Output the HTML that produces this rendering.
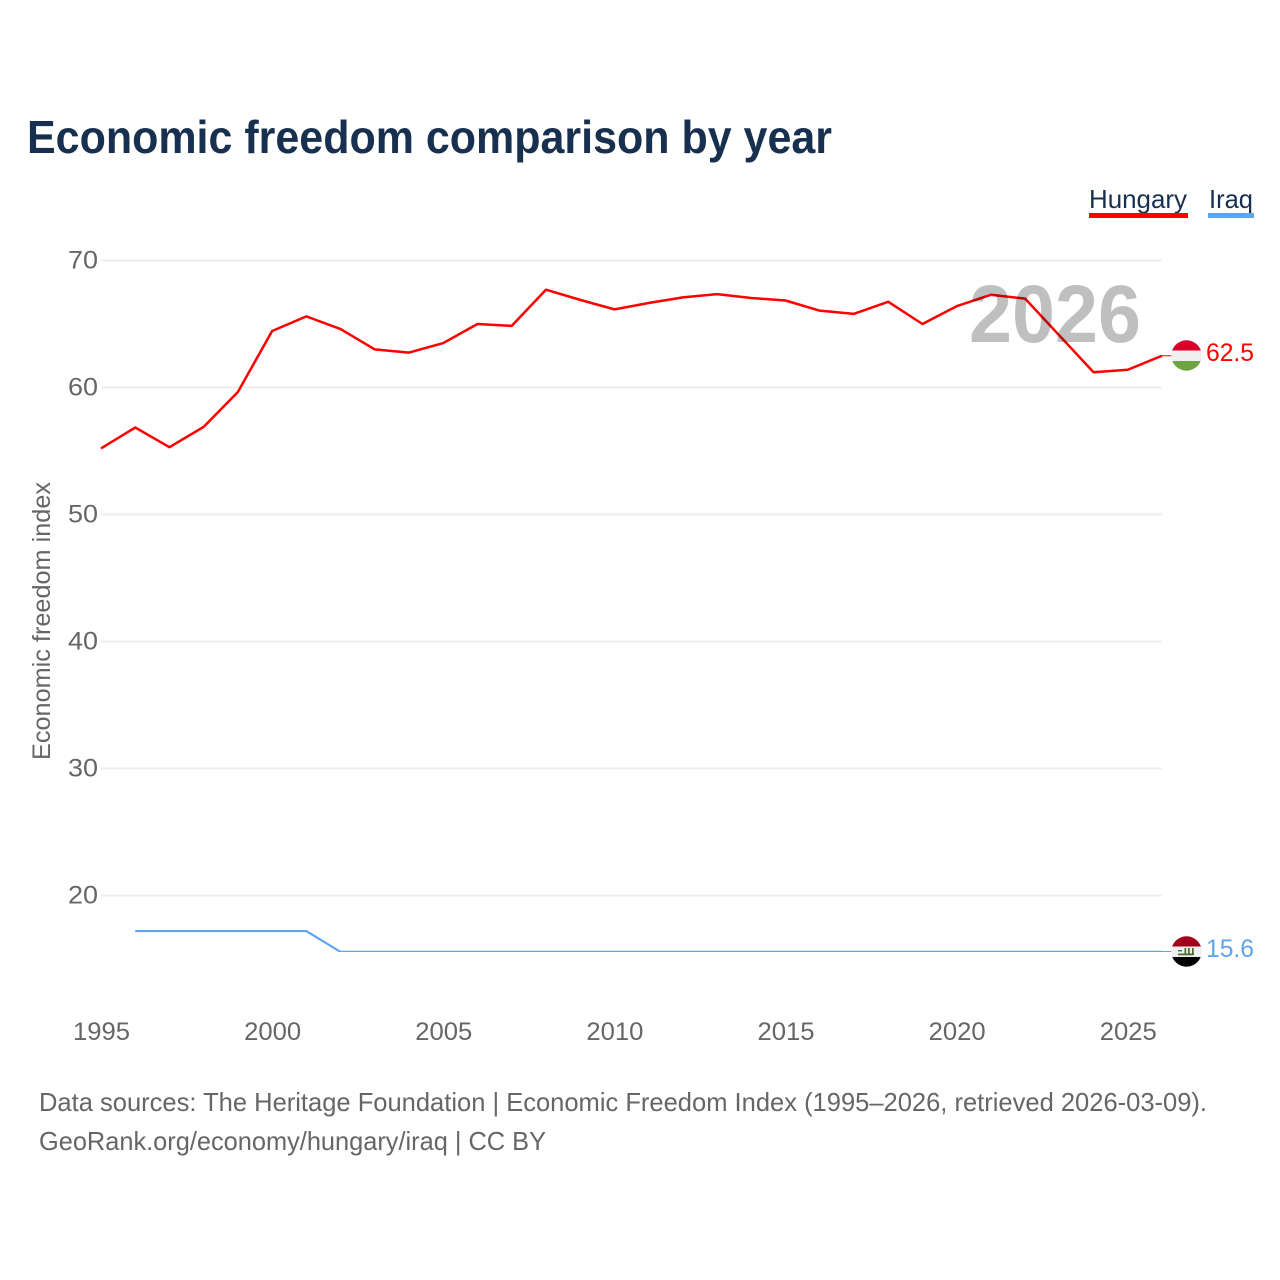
<!DOCTYPE html>
<html lang="en">
<head>
<meta charset="utf-8">
<title>Economic freedom comparison by year</title>
<style>
html,body{margin:0;padding:0;background:#fff;}
svg{display:block;font-family:"Liberation Sans",sans-serif;}
</style>
</head>
<body>
<svg id="chart" xmlns="http://www.w3.org/2000/svg" width="1280" height="1280" viewBox="0 0 1280 1280">
  <defs>
    <clipPath id="flag-clip-hu"><circle cx="1186.5" cy="355.5" r="15.2"></circle></clipPath>
    <clipPath id="flag-clip-iq"><circle cx="1186.5" cy="951.5" r="15.2"></circle></clipPath>
    <clipPath id="plot-clip"><rect x="90" y="240" width="1090" height="712"></rect></clipPath>
  </defs>
  <rect width="1280" height="1280" fill="#fff"></rect>
  <text x="27" y="153" font-size="46" font-weight="700" fill="#18304f" textLength="805" lengthAdjust="spacingAndGlyphs">Economic freedom comparison by year</text>
  <g id="grid"></g>
  <g id="yticks"></g>
  <g id="xticks"></g>
  <text transform="translate(50,621) rotate(-90)" font-size="25" fill="#666" text-anchor="middle" textLength="278" lengthAdjust="spacingAndGlyphs">Economic freedom index</text>
  <g id="series" clip-path="url(#plot-clip)"></g>
  <text x="1141" y="342" font-size="82" font-weight="700" fill="#000" fill-opacity="0.25" text-anchor="end" textLength="172" lengthAdjust="spacingAndGlyphs">2026</text>

  <g>
    <text x="1089" y="208" font-size="26" fill="#18304f" textLength="98" lengthAdjust="spacingAndGlyphs">Hungary</text>
    <rect x="1089" y="213" width="99" height="5" fill="#ff0000"></rect>
  </g>
  <g>
    <text x="1209" y="208" font-size="26" fill="#18304f" textLength="44" lengthAdjust="spacingAndGlyphs">Iraq</text>
    <rect x="1208" y="213" width="46" height="5" fill="#5fa4ee"></rect>
  </g>

  <g clip-path="url(#flag-clip-hu)">
    <rect x="1171" y="340" width="31" height="10.5" fill="#d80027"></rect>
    <rect x="1171" y="350.5" width="31" height="10.5" fill="#f0f0f0"></rect>
    <rect x="1171" y="361" width="31" height="11" fill="#6da544"></rect>
  </g>
  <g clip-path="url(#flag-clip-iq)">
    <rect x="1171" y="936" width="31" height="10.5" fill="#a2001d"></rect>
    <rect x="1171" y="946.5" width="31" height="10.5" fill="#f0f0f0"></rect>
    <rect x="1171" y="957" width="31" height="11" fill="#000"></rect>
    <path d="M1178 953.5h16v1.7h-16zM1178 950h4v1.4h-4zM1184.5 948h1.7v6h-1.7zM1188 948h1.7v6h-1.7zM1192 948h1.7v6h-1.7z" fill="#496e2d"></path>
  </g>

  <text x="1206" y="361" font-size="25" fill="#ff0000" textLength="48" lengthAdjust="spacingAndGlyphs">62.5</text>
  <text x="1206" y="957" font-size="25" fill="#5fa4ee" textLength="48" lengthAdjust="spacingAndGlyphs">15.6</text>

  <text x="39" y="1111" font-size="26" fill="#666" textLength="1168" lengthAdjust="spacingAndGlyphs">Data sources: The Heritage Foundation | Economic Freedom Index (1995–2026, retrieved 2026-03-09).</text>
  <text x="39" y="1150" font-size="26" fill="#666" textLength="507" lengthAdjust="spacingAndGlyphs">GeoRank.org/economy/hungary/iraq | CC BY</text>
</svg>
<script>
const years = [1995,1996,1997,1998,1999,2000,2001,2002,2003,2004,2005,2006,2007,2008,2009,2010,2011,2012,2013,2014,2015,2016,2017,2018,2019,2020,2021,2022,2023,2024,2025,2026];
const hungary = [55.2,56.85,55.3,56.9,59.65,64.45,65.6,64.6,63.0,62.75,63.5,65.0,64.85,67.7,66.9,66.15,66.65,67.1,67.35,67.05,66.85,66.05,65.8,66.75,65.0,66.4,67.3,67.0,64.1,61.2,61.4,62.5];
const iraq = [null,17.2,17.2,17.2,17.2,17.2,17.2,15.56,15.56,15.56,15.56,15.56,15.56,15.56,15.56,15.56,15.56,15.56,15.56,15.56,15.56,15.56,15.56,15.56,15.56,15.56,15.56,15.56,15.56,15.56,15.56,15.56];
const yTickValues = [20,30,40,50,60,70];
const xTickValues = [1995,2000,2005,2010,2015,2020,2025];

const NS = 'http://www.w3.org/2000/svg';
function xScale(year){ return 101 + (year - 1995) * (1162 - 101) / 31; }
function yScale(v){ return 260.5 + (70 - v) * 12.7; }
function make(tag, attrs, parent){
  const el = document.createElementNS(NS, tag);
  for (const k in attrs) el.setAttribute(k, attrs[k]);
  parent.appendChild(el);
  return el;
}

const grid = document.getElementById('grid');
const yticks = document.getElementById('yticks');
yTickValues.forEach(function(v){
  const line = make('line', {x1:101, x2:1162, y1:yScale(v), y2:yScale(v), stroke:'#eeeeee', 'stroke-width':2}, grid);
  
  
  const label = make('text', {x:98, y:yScale(v)+8, 'font-size':25, fill:'#666', 'text-anchor':'end', textLength:30, lengthAdjust:'spacingAndGlyphs'}, yticks);
  
  
  label.textContent = v;
});

const xticks = document.getElementById('xticks');
xTickValues.forEach(function(y){
  const label = make('text', {x:xScale(y)+0.5, y:1040, 'font-size':25, fill:'#666', 'text-anchor':'middle', textLength:57, lengthAdjust:'spacingAndGlyphs'}, xticks);
  
  
  label.textContent = y;
});

function pathFor(values){
  let d = '';
  values.forEach(function(v, i){
    if (v === null) return;
    d += (d ? 'L' : 'M') + xScale(years[i]).toFixed(2) + ' ' + yScale(v).toFixed(2);
  });
  return d;
}
const series = document.getElementById('series');
const huLine = make('path', {d:pathFor(hungary), fill:'none', stroke:'#ff0000', 'stroke-width':2.5, 'stroke-linejoin':'round'}, series);


const iqLine = make('path', {d:pathFor(iraq), fill:'none', stroke:'#5fa4ee', 'stroke-width':2.2, 'stroke-linejoin':'round'}, series);



const huEnd = yScale(hungary[hungary.length-1]);
const iqEnd = yScale(iraq[iraq.length-1]);
const huLead = make('line', {x1:1162, x2:1172, y1:huEnd, y2:huEnd, stroke:'#ff0000', 'stroke-width':1}, series);


const iqLead = make('line', {x1:1162, x2:1172, y1:iqEnd-0.4, y2:iqEnd-0.4, stroke:'#5fa4ee', 'stroke-width':1}, series);


</script>
</body>
</html>
